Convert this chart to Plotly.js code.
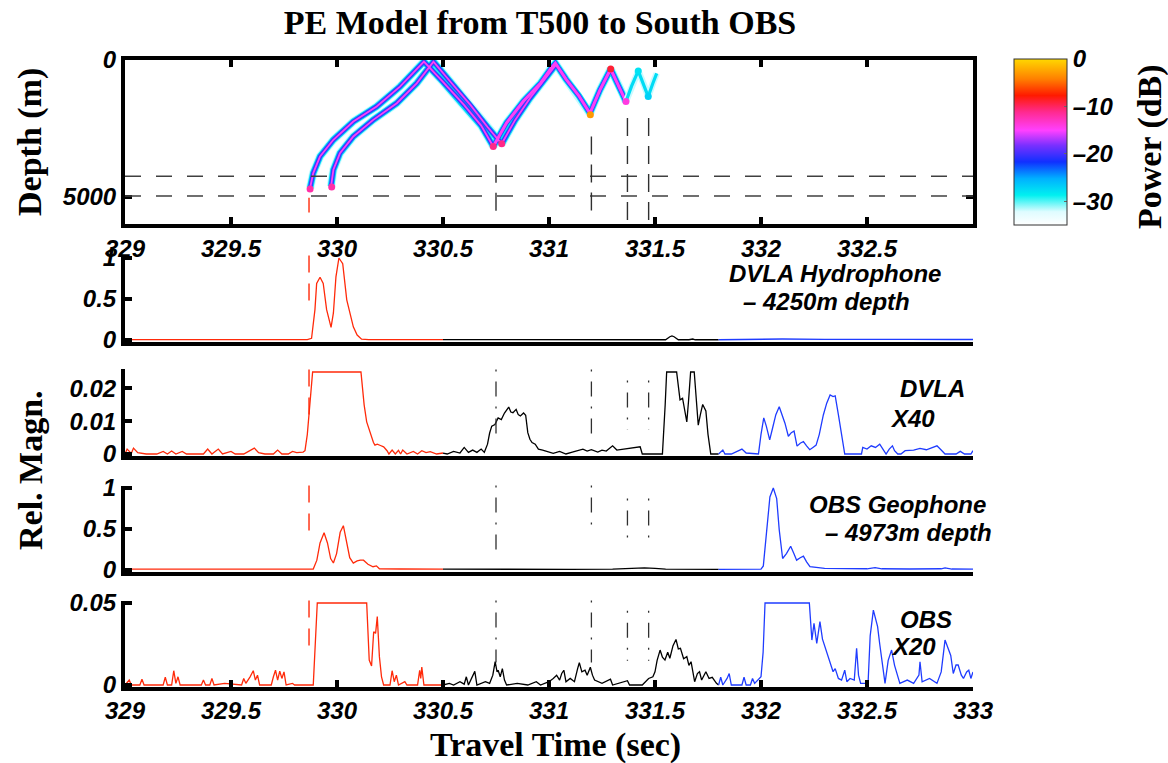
<!DOCTYPE html>
<html><head><meta charset="utf-8">
<script src="https://cdn.plot.ly/plotly-3.0.1.min.js"></script>
<style>html,body{margin:0;padding:0;background:#fff}#chart{width:1168px;height:763px}</style>
</head><body><div id="chart"></div>
<script>
// ---------------- DATA ----------------
const xTickVals = [329, 329.5, 330, 330.5, 331, 331.5, 332, 332.5, 333];
const xTickText = ['329', '329.5', '330', '330.5', '331', '331.5', '332', '332.5', '333'];
const receiverDepths = [4250, 4973];          // DVLA hydrophone, OBS geophone (m)
const arrivals = [329.868, 330.75, 331.2, 331.37, 331.47]; // travel-time markers (s)
const segBreaks = [329, 330.5, 331.8, 333];   // red / black / blue portions

// PE model ray traces (time s, depth m)
const ray1T = [329.873, 329.888, 329.92, 329.983, 330.077, 330.187, 330.297, 330.38, 330.41, 330.5, 330.6, 330.68, 330.737];
const ray1D = [4684, 4136, 3527, 2920, 2251, 1703, 973, 300, 60, 800, 1650, 2400, 3163];
const ray2T = [329.972, 329.983, 330.014, 330.077, 330.171, 330.282, 330.376, 330.43, 330.455, 330.53, 330.63, 330.71, 330.777];
const ray2D = [4623, 4015, 3406, 2798, 2190, 1582, 852, 330, 60, 750, 1650, 2450, 3066];
const ray3T = [330.737, 330.8, 330.88, 330.96, 331.01, 331.03, 331.08, 331.14, 331.193, 331.24, 331.291, 331.33, 331.363];
const ray3D = [3163, 2300, 1500, 850, 300, 120, 700, 1300, 1950, 1100, 330, 950, 1520];
const ray4T = [330.777, 330.84, 330.91, 330.98, 331.035];
const ray4D = [3066, 2200, 1400, 700, 150];
const ray5T = [331.363, 331.39, 331.421, 331.445, 331.468, 331.49, 331.508];
const ray5D = [1520, 950, 400, 850, 1338, 850, 487];
const dotT = [329.873, 329.975, 330.737, 330.777, 331.195, 331.291, 331.363, 331.421, 331.468];
const dotD = [4720, 4650, 3163, 3066, 2000, 330, 1520, 400, 1338];
const dotP = [-12, -12, -11, -11, -3, -9, -14, -28, -27];  // power (dB)

// DVLA hydrophone, 4250 m (relative magnitude)
const hydT = [329.0, 329.3, 329.6, 329.86, 329.88, 329.896, 329.904, 329.92, 329.935, 329.951, 329.972, 329.983, 329.995, 330.009, 330.027, 330.046, 330.077, 330.095, 330.116, 330.15, 330.3, 330.5, 330.8, 331.1, 331.4, 331.55, 331.57, 331.58, 331.59, 331.61, 331.66, 331.678, 331.69, 331.8, 331.9, 332.0, 332.1, 332.3, 332.5, 332.7, 332.9, 333.0];
const hydV = [0.005, 0.005, 0.005, 0.005, 0.02, 0.37, 0.69, 0.765, 0.69, 0.37, 0.155, 0.33, 0.77, 1.0, 0.93, 0.49, 0.16, 0.06, 0.01, 0.005, 0.005, 0.005, 0.003, 0.003, 0.003, 0.003, 0.04, 0.05, 0.04, 0.003, 0.003, 0.012, 0.003, 0.003, 0.006, 0.008, 0.012, 0.008, 0.012, 0.008, 0.006, 0.006];

// DVLA X40
const dvlaT = [329.0, 329.01, 329.03, 329.04, 329.06, 329.1, 329.15, 329.18, 329.2, 329.22, 329.24, 329.27, 329.29, 329.37, 329.39, 329.41, 329.44, 329.46, 329.5, 329.52, 329.56, 329.59, 329.61, 329.63, 329.66, 329.7, 329.72, 329.74, 329.77, 329.79, 329.81, 329.84, 329.849, 329.86, 329.872, 329.885, 330.113, 330.128, 330.14, 330.152, 330.164, 330.172, 330.179, 330.19, 330.205, 330.22, 330.236, 330.245, 330.26, 330.275, 330.29, 330.3, 330.31, 330.33, 330.36, 330.38, 330.4, 330.42, 330.44, 330.47, 330.5,
  330.52, 330.55, 330.58, 330.6, 330.62, 330.64, 330.66, 330.68, 330.695, 330.71, 330.72, 330.73, 330.745, 330.76, 330.775, 330.79, 330.81, 330.82, 330.83, 330.845, 330.855, 330.865, 330.88, 330.89, 330.9, 330.91, 330.92, 330.935, 330.95, 330.97, 330.99, 331.02, 331.05, 331.08, 331.11, 331.14, 331.16, 331.18, 331.2, 331.23, 331.25, 331.27, 331.3, 331.32, 331.35, 331.38, 331.41, 331.43, 331.44, 331.535, 331.548, 331.555, 331.602, 331.61, 331.618, 331.63, 331.64, 331.65, 331.658, 331.668, 331.685, 331.694, 331.704, 331.714, 331.725, 331.74, 331.75, 331.763, 331.8,
  331.82, 331.83, 331.86, 331.9, 331.91, 331.93, 331.988, 332.0, 332.013, 332.025, 332.041, 332.055, 332.07, 332.086, 332.1, 332.113, 332.129, 332.143, 332.156, 332.17, 332.185, 332.2, 332.215, 332.23, 332.245, 332.26, 332.275, 332.294, 332.31, 332.326, 332.34, 332.35, 332.365, 332.379, 332.395, 332.474, 332.48, 332.5, 332.52, 332.54, 332.56, 332.575, 332.59, 332.605, 332.62, 332.63, 332.645, 332.66, 332.68, 332.72, 332.75, 332.78, 332.81, 332.83, 332.85, 332.868, 332.92, 332.94, 332.96, 332.99, 333.0];
const dvlaV = [0, 0.0015, 0.0002, 0.0018, 0.0004, 0, 0, 0.0008, 0, 0.0009, 0, 0.0008, 0, 0, 0.0015, 0, 0.0015, 0, 0.0008, 0, 0, 0.0012, 0.0018, 0.0004, 0, 0, 0.0012, 0, 0, 0.0008, 0.0004, 0.0006, 0.001, 0.006, 0.015, 0.025, 0.025, 0.015, 0.0098, 0.0072, 0.0053, 0.0035, 0.0027, 0.003, 0.0026, 0.0022, 0.001, 0, 0.0012, 0, 0.0011, 0, 0.0012, 0, 0.0008, 0, 0.001, 0.0004, 0.0007, 0, 0.0003,
  0, 0.0008, 0.0003, 0.002, 0.0005, 0.0012, 0.0005, 0.0015, 0.0005, 0.003, 0.0064, 0.0085, 0.009, 0.011, 0.0105, 0.0125, 0.0143, 0.0128, 0.0126, 0.0136, 0.012, 0.0116, 0.0125, 0.0118, 0.0065, 0.0045, 0.0035, 0.003, 0.0015, 0.0012, 0.0008, 0.0002, 0.0008, 0, 0.0006, 0.0012, 0.0015, 0.0009, 0.0013, 0.0006, 0.0012, 0.0009, 0.0025, 0.0012, 0.0015, 0.0017, 0.0022, 0.0022, 0, 0, 0.015, 0.025, 0.025, 0.02, 0.0165, 0.017, 0.013, 0.0098, 0.016, 0.025, 0.025, 0.016, 0.0088, 0.012, 0.0151, 0.0131, 0.006, 0, 0,
  0.0012, 0, 0, 0.0012, 0.0015, 0.0003, 0, 0.006, 0.011, 0.0085, 0.0043, 0.008, 0.012, 0.0144, 0.012, 0.0094, 0.0054, 0.0065, 0.007, 0.0024, 0.0033, 0.0038, 0.0025, 0.0013, 0.002, 0.0027, 0.006, 0.0119, 0.0155, 0.018, 0.0175, 0.0177, 0.012, 0.0068, 0, 0, 0.002, 0.0015, 0.0025, 0.002, 0.003, 0.0015, 0, 0.0015, 0.0025, 0.001, 0, 0, 0.001, 0.0012, 0.0017, 0.0013, 0.002, 0.0025, 0.0012, 0, 0, 0.0008, 0, 0, 0.001];

// OBS geophone, 4973 m
const obsT = [329.0, 329.2, 329.4, 329.6, 329.8, 329.888, 329.905, 329.92, 329.939, 329.955, 329.97, 329.983, 329.998, 330.015, 330.03, 330.045, 330.06, 330.077, 330.095, 330.11, 330.125, 330.146, 330.17, 330.186, 330.2, 330.3, 330.4, 330.5, 330.8, 331.1, 331.3, 331.45, 331.5, 331.55, 331.8, 331.9, 332.0, 332.011, 332.027, 332.042, 332.058, 332.074, 332.086, 332.102, 332.12, 332.14, 332.155, 332.168, 332.185, 332.2, 332.215, 332.231, 332.3, 332.4, 332.5, 332.538, 332.57, 332.7, 332.85, 332.868, 332.9, 333.0];
const obsV = [0.01, 0.012, 0.01, 0.012, 0.01, 0.012, 0.12, 0.33, 0.455, 0.33, 0.14, 0.085, 0.2, 0.46, 0.54, 0.35, 0.15, 0.085, 0.11, 0.12, 0.12, 0.07, 0.04, 0.05, 0.015, 0.012, 0.01, 0.01, 0.005, 0.008, 0.01, 0.025, 0.02, 0.01, 0.008, 0.008, 0.01, 0.05, 0.49, 0.89, 1.0, 0.87, 0.49, 0.14, 0.2, 0.29, 0.2, 0.12, 0.15, 0.17, 0.1, 0.04, 0.02, 0.015, 0.015, 0.03, 0.015, 0.012, 0.015, 0.025, 0.012, 0.01];

// OBS X20
const obs20T = [329.0, 329.02, 329.03, 329.07, 329.08, 329.09, 329.18, 329.19, 329.2, 329.22, 329.23, 329.24, 329.25, 329.26, 329.36, 329.37, 329.38, 329.4, 329.41, 329.42, 329.47, 329.55, 329.56, 329.57, 329.59, 329.605, 329.615, 329.625, 329.635, 329.69, 329.7, 329.71, 329.72, 329.73, 329.74, 329.75, 329.76, 329.79, 329.8, 329.888, 329.907, 330.14, 330.152, 330.163, 330.173, 330.182, 330.19, 330.2, 330.21, 330.22, 330.25, 330.26, 330.27, 330.28, 330.29, 330.32, 330.33, 330.38, 330.39, 330.395, 330.4, 330.41, 330.5,
  330.53, 330.55, 330.58, 330.6, 330.61, 330.62, 330.65, 330.66, 330.7, 330.72, 330.735, 330.746, 330.755, 330.76, 330.77, 330.78, 330.79, 330.8, 330.85, 330.9, 330.94, 330.96, 331.0, 331.02, 331.036, 331.05, 331.06, 331.07, 331.08, 331.1, 331.12, 331.135, 331.143, 331.155, 331.17, 331.18, 331.195, 331.205, 331.215, 331.25, 331.29, 331.3, 331.37, 331.38, 331.44, 331.47, 331.49, 331.5, 331.51, 331.524, 331.535, 331.547, 331.56, 331.57, 331.585, 331.599, 331.61, 331.62, 331.635, 331.65, 331.66, 331.67, 331.68, 331.687, 331.7, 331.71, 331.72, 331.74, 331.755, 331.77, 331.79, 331.8,
  331.81, 331.82, 331.84, 331.85, 331.86, 331.91, 331.92, 331.93, 331.95, 331.96, 331.97, 332.0, 332.01, 332.019, 332.228, 332.24, 332.25, 332.263, 332.278, 332.29, 332.297, 332.316, 332.33, 332.34, 332.35, 332.365, 332.38, 332.395, 332.405, 332.42, 332.44, 332.451, 332.46, 332.47, 332.505, 332.515, 332.53, 332.55, 332.56, 332.568, 332.578, 332.585, 332.6, 332.616, 332.63, 332.64, 332.655, 332.69, 332.72, 332.745, 332.75, 332.76, 332.795, 332.83, 332.85, 332.868, 332.883, 332.895, 332.907, 332.92, 332.93, 332.945, 332.955, 332.97, 332.98, 332.99, 333.0];
const obs20V = [0, 0.003, 0, 0, 0.0035, 0, 0, 0.0047, 0, 0, 0.0087, 0.001, 0.005, 0, 0, 0.003, 0, 0, 0.004, 0, 0.001, 0, 0.004, 0.001, 0.005, 0.0087, 0.003, 0.006, 0, 0, 0.005, 0.009, 0.003, 0.0085, 0.004, 0.008, 0, 0.001, 0, 0, 0.05, 0.05, 0.0152, 0.0116, 0.0325, 0.0315, 0.0417, 0.0173, 0.005, 0, 0, 0.0087, 0.002, 0.006, 0, 0.002, 0, 0, 0.009, 0.004, 0.011, 0, 0,
  0.001, 0, 0.002, 0.0005, 0.005, 0, 0.0083, 0, 0.002, 0.001, 0.006, 0.0142, 0.008, 0.009, 0.005, 0.01, 0.003, 0, 0.001, 0, 0.002, 0, 0.002, 0.004, 0.006, 0.003, 0.007, 0.009, 0.002, 0.004, 0.002, 0.01, 0.0136, 0.008, 0.009, 0.006, 0.0108, 0.006, 0.003, 0.001, 0.0035, 0, 0.0026, 0, 0, 0.004, 0.005, 0.008, 0.015, 0.0213, 0.017, 0.0152, 0.02, 0.0163, 0.024, 0.0278, 0.022, 0.0224, 0.016, 0.0173, 0.012, 0.0142, 0.006, 0.002, 0.007, 0.0081, 0.003, 0.0081, 0.004, 0.0047, 0.001, 0,
  0.0047, 0, 0.004, 0.007, 0, 0, 0.0047, 0, 0, 0.004, 0.001, 0.005, 0.02, 0.05, 0.05, 0.0274, 0.0376, 0.0254, 0.0386, 0.028, 0.0254, 0.0173, 0.012, 0.0081, 0.01, 0.004, 0.003, 0.009, 0.002, 0.004, 0.003, 0.0224, 0.006, 0.001, 0.001, 0.03, 0.0457, 0.0356, 0.025, 0.0173, 0.008, 0.001, 0.015, 0.0213, 0.012, 0.008, 0.001, 0.003, 0.001, 0.006, 0.0142, 0.002, 0.004, 0.001, 0.008, 0.0274, 0.0224, 0.018, 0.007, 0.0122, 0.0122, 0.006, 0.004, 0.008, 0.009, 0.004, 0.008];

// ---------------- STYLE / LAYOUT ----------------
const W = 1168, H = 763;
const sansBI = {family: 'Liberation Sans, Arial, sans-serif', size: 24, color: '#000', weight: 'bold', style: 'italic'};
const serifB = {family: 'Liberation Serif, Times New Roman, serif', size: 34, color: '#000', weight: 'bold'};
const annFont = Object.assign({}, sansBI, {size: 24});
const segColors = ['#ff2a0a', '#000000', '#1f3cff'];
const xDom = [125 / W, 973 / W];

function py(p) { return 1 - p / H; }
function domFrom(pxZero, pxTop, vTop, r0, r1) {
  const u = (pxZero - pxTop) / vTop;
  return [py(pxZero - r0 * u), py(pxZero - r1 * u)];
}

const cscale = [[0, '#ffffff'], [0.08, '#dffcff'], [0.18, '#00f0f0'], [0.28, '#00b0ff'], [0.38, '#1030ff'],
  [0.48, '#7a30ff'], [0.57, '#ff40ff'], [0.68, '#ff2a90'], [0.78, '#ff1a00'], [0.88, '#ff8000'], [1, '#ffd800']];

const traces = [];
// ray layers
const rays = [[ray1T, ray1D], [ray2T, ray2D], [ray3T, ray3D], [ray4T, ray4D]];
const layers = [['#c8faff', 8.5], ['#00def8', 6.5], ['#3040ff', 4.6], ['#ff40f4', 1.8]];
layers.forEach(([col, w], li) => {
  rays.forEach(([t, d], ri) => {
    const ww = (ri === 2 && li === 3) ? 3.0 : w;
    traces.push({type: 'scatter', mode: 'lines', x: t, y: d, xaxis: 'x', yaxis: 'y',
      line: {color: col, width: ww}, hoverinfo: 'skip', showlegend: false});
  });
});
// weaker late ray (cyan only)
[['#c8faff', 6.5], ['#00dcf5', 3.2]].forEach(([col, w]) => {
  traces.push({type: 'scatter', mode: 'lines', x: ray5T, y: ray5D, xaxis: 'x', yaxis: 'y',
    line: {color: col, width: w}, hoverinfo: 'skip', showlegend: false});
});
// power dots + colorbar
traces.push({type: 'scatter', mode: 'markers', x: dotT, y: dotD, xaxis: 'x', yaxis: 'y',
  marker: {size: 7, color: dotP, colorscale: cscale, cmin: -35, cmax: 0, showscale: true,
    colorbar: {x: 1014 / W, xanchor: 'left', xpad: 0, y: py(142), yanchor: 'middle', ypad: 0,
      len: 166, lenmode: 'pixels', thickness: 53, thicknessmode: 'pixels',
      outlinewidth: 1, outlinecolor: '#333', tickvals: [0, -10, -20, -30],
      ticktext: ['0', '\u201310', '\u201320', '\u201330'], ticks: 'inside', ticklen: 3,
      tickcolor: '#666', tickfont: sansBI}},
  hoverinfo: 'skip', showlegend: false});

// waveform panels
const panels = [[hydT, hydV, 2], [dvlaT, dvlaV, 3], [obsT, obsV, 4], [obs20T, obs20V, 5]];
panels.forEach(([t, v, k]) => {
  for (let s = 0; s < 3; s++) {
    const lo = segBreaks[s], hi = segBreaks[s + 1];
    const xs = [], ys = [];
    t.forEach((tt, i) => { if (tt >= lo && tt <= hi) { xs.push(tt); ys.push(v[i]); } });
    traces.push({type: 'scatter', mode: 'lines', x: xs, y: ys, xaxis: 'x' + k, yaxis: 'y' + k,
      line: {color: segColors[s], width: 1.3}, hoverinfo: 'skip', showlegend: false});
  }
});

// shapes
const shapes = [];
receiverDepths.forEach(d => shapes.push({type: 'line', xref: 'x', yref: 'y', x0: 329, x1: 333, y0: d, y1: d,
  line: {color: '#404040', width: 1.5, dash: '16px,15px'}}));
const topExt = [[5040, 5580], [3830, 5550], [2800, 5720], [2120, 6000], [2120, 6000]];
arrivals.forEach((a, i) => {
  shapes.push({type: 'line', xref: 'x', yref: 'y', x0: a, x1: a, y0: topExt[i][0], y1: topExt[i][1],
    line: {color: i === 0 ? '#ff2a0a' : '#303030', width: 1.4, dash: i === 0 ? 'solid' : '18px,10px'}});
});
[2, 3, 4, 5].forEach(k => {
  shapes.push({type: 'line', xref: 'x' + k, yref: 'y' + k + ' domain', x0: arrivals[0], x1: arrivals[0], y0: 1.0, y1: 0.4,
    line: {color: '#ff2a0a', width: 1.4, dash: '17px,11px'}});
});
const lowExt = {3: [[1, 0.2], [1, 0.2], [0.87, 0.3], [0.87, 0.3]],
                4: [[1, 0.22], [1, 0.5], [0.85, 0.33], [0.85, 0.33]],
                5: [[1, 0.28], [1, 0.28], [0.88, 0.3], [0.88, 0.3]]};
[3, 4, 5].forEach(k => {
  for (let i = 1; i < arrivals.length; i++) {
    shapes.push({type: 'line', xref: 'x' + k, yref: 'y' + k + ' domain', x0: arrivals[i], x1: arrivals[i],
      y0: lowExt[k][i - 1][0], y1: lowExt[k][i - 1][1],
      line: {color: '#303030', width: 1.3, dash: '2px,10px,15px,10px'}});
  }
});

// axes
function xAx(anchor, showLabels, ticks) {
  return {domain: xDom, range: [329, 333], anchor: anchor, showgrid: false, zeroline: false,
    showline: true, linecolor: '#000', linewidth: 4, ticks: ticks ? 'inside' : '', ticklen: 7, tickwidth: 4,
    tickcolor: '#000', tickvals: xTickVals, ticktext: xTickText, showticklabels: showLabels, tickfont: sansBI};
}
function yAx(anchor, dom, range, tv, tt) {
  return {domain: dom, range: range, anchor: anchor, showgrid: false, zeroline: false,
    showline: true, linecolor: '#000', linewidth: 4, ticks: 'inside', ticklen: 7, tickwidth: 4,
    tickcolor: '#000', tickvals: tv, ticktext: tt, tickfont: sansBI};
}
const xTop = xAx('y', true, true);
xTop.mirror = 'allticks';
xTop.tickvals = xTickVals.slice(0, 8); xTop.ticktext = xTickText.slice(0, 8);
const yTop = yAx('x', [py(224), py(60)], [6000, 0], [0, 5000], ['0', '5000']);
yTop.mirror = 'allticks';

const layout = {
  width: W, height: H, margin: {l: 0, r: 0, t: 0, b: 0}, paper_bgcolor: '#fff', plot_bgcolor: 'rgba(0,0,0,0)',
  showlegend: false,
  title: {text: 'PE Model from T500 to South OBS', font: serifB, x: 540 / W, xanchor: 'center', y: py(22), yanchor: 'middle'},
  xaxis: xTop, yaxis: yTop,
  xaxis2: xAx('y2', false, false),
  yaxis2: yAx('x2', domFrom(340, 258, 1, -0.02, 1.03), [-0.02, 1.03], [0, 0.5, 1], ['0', '0.5', '1']),
  xaxis3: xAx('y3', false, false),
  yaxis3: yAx('x3', domFrom(454, 372, 0.025, -0.0005, 0.0258), [-0.0005, 0.0258], [0, 0.01, 0.02], ['0', '0.01', '0.02']),
  xaxis4: xAx('y4', false, false),
  yaxis4: yAx('x4', domFrom(570, 488, 1, -0.02, 1.03), [-0.02, 1.03], [0, 0.5, 1], ['0', '0.5', '1']),
  xaxis5: xAx('y5', true, true),
  yaxis5: yAx('x5', domFrom(685, 603, 0.05, -0.001, 0.0515), [-0.001, 0.0515], [0, 0.05], ['0', '0.05']),
  shapes: shapes,
  annotations: [
    {text: 'Depth (m)', x: 30 / W, y: py(142), textangle: -90},
    {text: 'Rel. Magn.', x: 30 / W, y: py(470), textangle: -90},
    {text: 'Travel Time (sec)', x: 555 / W, y: py(745)},
    {text: 'Power (dB)', x: 1150 / W, y: py(147), textangle: -90},
  ].map(a => Object.assign({xref: 'paper', yref: 'paper', showarrow: false, xanchor: 'center', yanchor: 'middle', font: serifB}, a))
  .concat([
    {text: 'DVLA Hydrophone', x: 835, y: 273},
    {text: '\u2013 4250m depth', x: 826, y: 301},
    {text: 'DVLA', x: 933, y: 389},
    {text: 'X40', x: 912, y: 418},
    {text: 'OBS Geophone', x: 897, y: 504},
    {text: '\u2013 4973m depth', x: 908, y: 532},
    {text: 'OBS', x: 926, y: 619},
    {text: 'X20', x: 913, y: 646},
  ].map(a => ({xref: 'paper', yref: 'paper', showarrow: false, xanchor: 'center', yanchor: 'middle',
    font: annFont, text: a.text, x: a.x / W, y: py(a.y), borderpad: 0})))
};

Plotly.newPlot('chart', traces, layout, {displayModeBar: false, staticPlot: true});
</script></body></html>
